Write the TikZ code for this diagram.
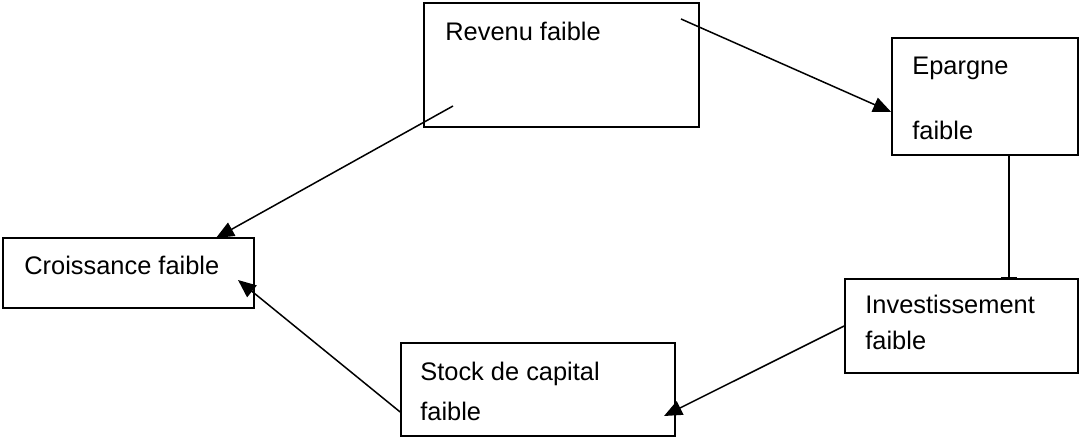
\documentclass[tikz,border=0pt]{standalone}
\usepackage{fontspec}
\setmainfont{Liberation Sans}
\usetikzlibrary{arrows.meta}

\tikzset{
    box/.style={draw, line width=0.85pt, rectangle, inner sep=0pt},
    txt/.style={anchor=base west, inner sep=0pt, font=\fontsize{12.7}{15}\selectfont},
    flow/.style={line width=0.75pt, -{Triangle[length=9pt, width=7.5pt]}},
}

\begin{document}
\begin{tikzpicture}[x=0.5pt, y=-0.5pt]
    \useasboundingbox (0, 0) rectangle (1079, 437);
    \begin{scope}
        % Boxes
        \node[box, minimum width=137.5pt, minimum height=62pt] (Revenu) at (561.5, 65) {};
        \node[box, minimum width=93pt, minimum height=58.5pt] (Epargne) at (985, 96.5) {};
        \node[box, minimum width=116.5pt, minimum height=47pt] (Invest) at (961.5, 326) {};
        \node[box, minimum width=137pt, minimum height=46.5pt] (Stock) at (538, 389.5) {};
        \node[box, minimum width=125.5pt, minimum height=35pt] (Croiss) at (128.5, 273) {};
        % Labels
        \node[txt] (tRevenu) at (445, 40.5) {Revenu faible};
        \node[txt] (tEpargne) at (912, 75) {Epargne};
        \node[txt] (tEpargneB) at (912, 140) {faible};
        \node[txt] (tInvest) at (865, 314) {Investissement};
        \node[txt] (tInvestB) at (865, 350) {faible};
        \node[txt] (tStock) at (420, 380) {Stock de capital};
        \node[txt] (tStockB) at (420, 420) {faible};
        \node[txt] (tCroiss) at (24, 275) {Croissance faible};
    \end{scope}
    \begin{scope}
        % Connector ends
        \coordinate (revA) at (681, 19);
        \coordinate (revB) at (453, 106);
        \coordinate (epaIn) at (Epargne.west |- 0, 112);
        \coordinate (epaOut) at (1009, 155);
        \coordinate (invIn) at (1009, 279);
        \coordinate (invOut) at (Invest.west |- 0, 326);
        \coordinate (stoIn) at (664, 416);
        \coordinate (stoOut) at (Stock.west |- 0, 412);
        \coordinate (croA) at (216, 238);
        \coordinate (croB) at (238, 280);
        % Arrows
        \draw[flow] (revA) -- (epaIn);
        \draw[line width=0.75pt, -{Bar[width=8pt, line width=0.9pt]}] (epaOut) -- (invIn);
        \draw[flow] (invOut) -- (stoIn);
        \draw[flow] (stoOut) -- (croB);
        \draw[flow] (revB) -- (croA);
    \end{scope}
\end{tikzpicture}
\end{document}
